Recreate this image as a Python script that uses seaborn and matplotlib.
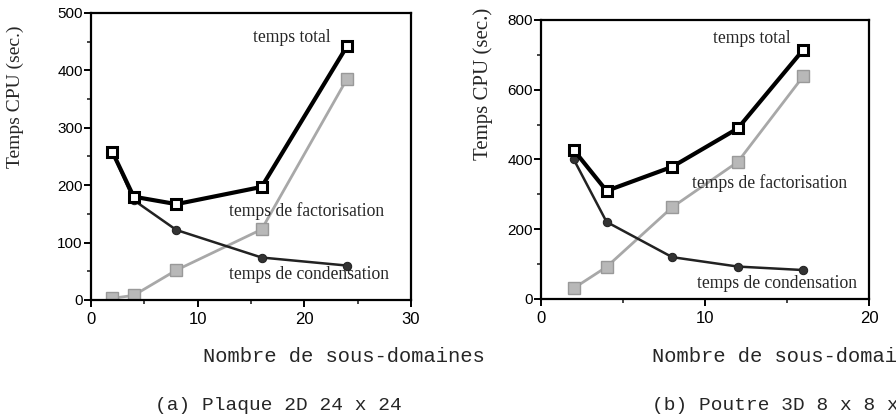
import matplotlib
matplotlib.use("Agg")
import matplotlib.pyplot as plt
import seaborn as sns
from matplotlib.ticker import MultipleLocator

# data
nb_2d = [2, 4, 8, 16, 24]
total_2d = [258, 180, 167, 197, 442]
fact_2d = [3, 8, 52, 123, 385]
cond_2d = [258, 174, 122, 74, 60]

nb_3d = [2, 4, 8, 12, 16]
total_3d = [427, 310, 379, 489, 715]
fact_3d = [31, 92, 263, 393, 639]
cond_3d = [400, 221, 120, 93, 83]

serif = ['Liberation Serif', 'DejaVu Serif']
mono = ['Liberation Mono', 'DejaVu Sans Mono']

sns.set_style("ticks")
plt.rcParams['font.family'] = ['Liberation Sans', 'DejaVu Sans']

fig = plt.figure(figsize=(8.96, 4.18), dpi=100)
ax1 = fig.add_axes([0.1016, 0.2823, 0.357, 0.6866])
ax2 = fig.add_axes([0.6038, 0.2847, 0.366, 0.6675])


def draw(ax, x, tot, fac, con):
    sns.lineplot(x=x, y=fac, ax=ax, color='#a8a8a8', linewidth=2,
                 marker='s', markersize=8, markerfacecolor='#b8b8b8',
                 markeredgecolor='#999999', markeredgewidth=1)
    sns.lineplot(x=x, y=con, ax=ax, color='#222222', linewidth=1.8,
                 marker='o', markersize=6, markerfacecolor='#333333',
                 markeredgecolor='#222222')
    sns.lineplot(x=x, y=tot, ax=ax, color='black', linewidth=3,
                 marker='s', markersize=7.5, markerfacecolor='white',
                 markeredgecolor='black', markeredgewidth=2.2)
    for s in ax.spines.values():
        s.set_linewidth(1.6)
        s.set_color('black')
    ax.tick_params(axis='both', which='major', direction='out', length=5,
                   width=1.4, pad=1, colors='black')
    ax.tick_params(axis='both', which='minor', direction='out', length=3,
                   width=1.2)
    ax.tick_params(axis='x', labelsize=12, pad=4)
    ax.tick_params(axis='y', labelsize=11)
    ax.set_xlabel('')
    ax.set_ylabel('')


fs = 12.7

# (a) plaque 2D
draw(ax1, nb_2d, total_2d, fact_2d, cond_2d)
ax1.set_xlim(0, 30)
ax1.set_ylim(0, 500)
ax1.xaxis.set_major_locator(MultipleLocator(10))
ax1.xaxis.set_minor_locator(MultipleLocator(5))
ax1.yaxis.set_major_locator(MultipleLocator(100))
ax1.yaxis.set_minor_locator(MultipleLocator(50))
ax1.text(15.2, 458, 'temps total', family=serif, fontsize=fs, va='center')
ax1.text(12.9, 155, 'temps de factorisation', family=serif, fontsize=fs, va='center')
ax1.text(12.9, 45, 'temps de condensation', family=serif, fontsize=fs, va='center')

# (b) poutre 3D
draw(ax2, nb_3d, total_3d, fact_3d, cond_3d)
ax2.set_xlim(0, 20)
ax2.set_ylim(0, 800)
ax2.xaxis.set_major_locator(MultipleLocator(10))
ax2.xaxis.set_minor_locator(MultipleLocator(5))
ax2.yaxis.set_major_locator(MultipleLocator(200))
ax2.yaxis.set_minor_locator(MultipleLocator(100))
ax2.text(10.5, 748, 'temps total', family=serif, fontsize=fs, va='center')
ax2.text(9.2, 332, 'temps de factorisation', family=serif, fontsize=fs, va='center')
ax2.text(9.5, 43, 'temps de condensation', family=serif, fontsize=fs, va='center')

# axis titles and captions (the scan is cropped on the right)
fig.text(15 / 896, 1 - 97 / 418, 'Temps CPU (sec.)', family=serif, fontsize=14,
         rotation=90, ha='center', va='center')
fig.text(483 / 896, 1 - 84 / 418, 'Temps CPU (sec.)', family=serif, fontsize=15,
         rotation=90, ha='center', va='center')
fig.text(203 / 896, 1 - 357 / 418, 'Nombre de sous-domaines', family=mono,
         fontsize=14.8, ha='left', va='center')
fig.text(652 / 896, 1 - 357 / 418, 'Nombre de sous-domaines', family=mono,
         fontsize=14.8, ha='left', va='center')
fig.text(155 / 896, 1 - 405 / 418, '(a) Plaque 2D 24 x 24', family=mono,
         fontsize=14, ha='left', va='center')
fig.text(652 / 896, 1 - 405 / 418, '(b) Poutre 3D 8 x 8 x 8', family=mono,
         fontsize=14, ha='left', va='center')

fig.savefig('out.png', dpi=100)
